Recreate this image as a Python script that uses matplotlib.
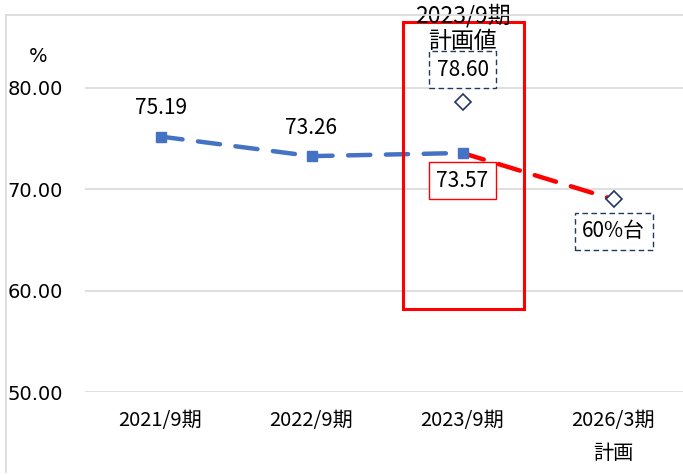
import matplotlib
matplotlib.use("Agg")
import matplotlib.pyplot as plt
from matplotlib.patches import Rectangle
from matplotlib.lines import Line2D

# ---- data ----
categories = ["2021/9期", "2022/9期", "2023/9期", "2026/3期\n計画"]
actual_values = [75.19, 73.26, 73.57]          # blue line (results)
plan_2023 = 78.60                              # 2023/9 plan value (diamond)
plan_2026 = 69.0                               # 2026/3 plan (diamond, "60%台")
actual_labels = ["75.19", "73.26", "73.57"]
plan_2023_label = "78.60"
plan_2026_label = "60%台"
yticks = [50, 60, 70, 80]

W, H = 683, 475
fig = plt.figure(figsize=(W / 100, H / 100), dpi=100)
fig.patch.set_facecolor("white")

# chart-area border (left and top visible)
fig.add_artist(Line2D([6 / W, 6 / W], [1 - 15 / H, 1 - 472 / H], color="#D9D9D9", lw=1.2))
fig.add_artist(Line2D([6 / W, 1.0], [1 - 15 / H, 1 - 15 / H], color="#D9D9D9", lw=1.2))

ax_left, ax_right = 85, 689
ax_top, ax_bot = 15, 392.3
ax = fig.add_axes([ax_left / W, 1 - ax_bot / H, (ax_right - ax_left) / W, (ax_bot - ax_top) / H])
ax.set_xlim(-0.5, 3.5)
ax.set_ylim(50, 87.16)
for s in ax.spines.values():
    s.set_visible(False)
ax.set_yticks(yticks)
ax.set_yticklabels([f"{v:.2f}" for v in yticks], fontsize=14, family="DejaVu Sans", color="#000000")
ax.yaxis.grid(True, color="#D9D9D9", lw=1.2)
ax.set_axisbelow(True)
ax.tick_params(axis="y", length=0, pad=16)
ax.set_xticks(range(len(categories)))
ax.set_xticklabels(categories, fontsize=14.5, family=["Noto Sans CJK JP", "DejaVu Sans"],
                   linespacing=1.75)
ax.tick_params(axis="x", length=0, pad=13)

xs = list(range(len(actual_values)))
blue = "#4472C4"
red = "#FF0000"
navy = "#203864"

# red plan line from last actual to 2026 plan
ax.plot([xs[-1], 3], [actual_values[-1], plan_2026], color=red, lw=3.2,
        dashes=(5, 3.5), solid_capstyle="round", dash_capstyle="round", zorder=3)
# blue actual line
ax.plot(xs, actual_values, color=blue, lw=3.2, dashes=(5, 3.5), dash_capstyle="round",
        marker="s", markersize=7.5, markerfacecolor=blue, markeredgecolor=blue, zorder=4)
# plan diamonds
ax.plot([2, 3], [plan_2023, plan_2026], linestyle="none", marker="D", markersize=8,
        markerfacecolor="white", markeredgecolor=navy, markeredgewidth=1.2, zorder=5)

lab_font = dict(fontsize=15, family=["Noto Sans CJK JP", "DejaVu Sans"], ha="center", va="center")

# data labels for actuals
ax.annotate(actual_labels[0], (xs[0], actual_values[0]), xytext=(1, 29),
            textcoords="offset pixels", **lab_font)
ax.annotate(actual_labels[1], (xs[1], actual_values[1]), xytext=(0, 28),
            textcoords="offset pixels", **lab_font)
ax.annotate(actual_labels[2], (xs[2], actual_values[2]), xytext=(0, -28),
            textcoords="offset pixels", annotation_clip=False,
            bbox=dict(boxstyle="square,pad=0.36", fc="white", ec=red, lw=1.0), **lab_font)
ax.annotate(plan_2023_label, (2, plan_2023), xytext=(0, 32), textcoords="offset pixels",
            annotation_clip=False,
            bbox=dict(boxstyle="square,pad=0.36", fc="white", ec=navy, lw=1.0, ls=(0, (4, 2.5))),
            **lab_font)
ax.annotate(plan_2026_label, (3, plan_2026), xytext=(0, -32), textcoords="offset pixels",
            annotation_clip=False,
            bbox=dict(boxstyle="square,pad=0.36", fc="white", ec=navy, lw=1.0, ls=(0, (4, 2.5))),
            **lab_font)

# red highlight rectangle around 2023/9 column
ax.add_patch(Rectangle((1.606, 58.2), 0.80, 86.47 - 58.2, fill=False, ec=red, lw=2.2,
                       clip_on=False, zorder=6))

# header text above 2023/9
ax.annotate("2023/9期\n計画値", (2, 87.16), xytext=(0, -13), textcoords="offset pixels",
            annotation_clip=False, fontsize=16.5, family=["Noto Sans CJK JP", "DejaVu Sans"],
            ha="center", va="center", linespacing=1.15, zorder=7)

# unit label
fig.text(38 / W, 1 - 57 / H, "%", fontsize=14, family="DejaVu Sans", ha="center", va="center")

fig.savefig("out.png", dpi=100)
